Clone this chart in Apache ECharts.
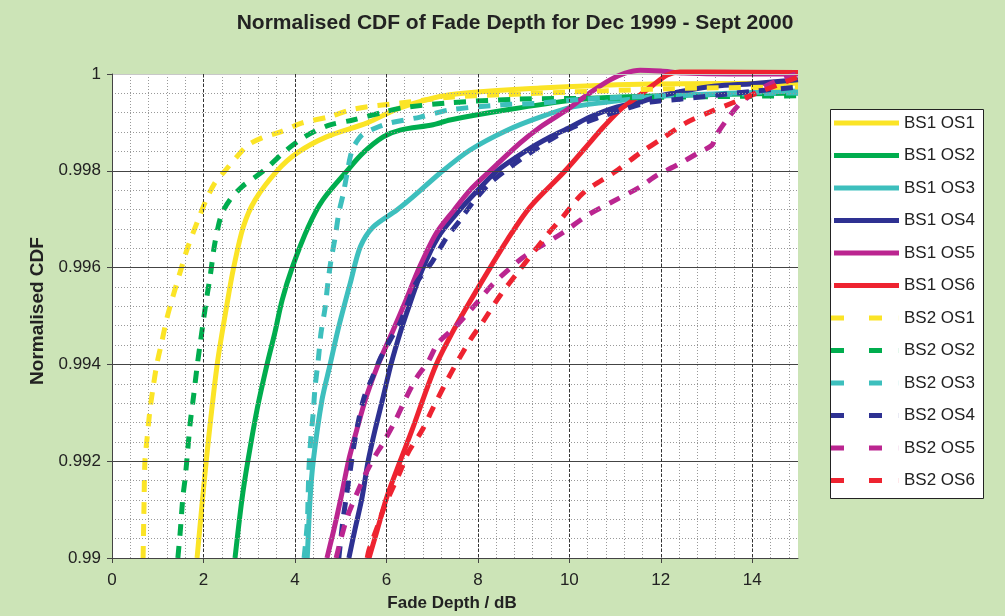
<!DOCTYPE html>
<html><head><meta charset="utf-8">
<script src="https://cdn.jsdelivr.net/npm/echarts@6/dist/echarts.min.js"></script>
<style>html,body{margin:0;padding:0;background:#cce4b7}#c{width:1005px;height:616px}</style>
</head><body><div id="c"></div>
<script>
const seriesNames = ['BS1 OS1','BS1 OS2','BS1 OS3','BS1 OS4','BS1 OS5','BS1 OS6','BS2 OS1','BS2 OS2','BS2 OS3','BS2 OS4','BS2 OS5','BS2 OS6'];
const xTickLabels = ['0','2','4','6','8','10','12','14'];
const yTickLabels = ['0.99','0.992','0.994','0.996','0.998','1'];

const bs1os1 = [[1.86,0.99],[2.06,0.992],[2.30,0.994],[2.53,0.99533],[2.66,0.996],[2.87,0.99684],[3.13,0.9974],[3.61,0.998],[4.05,0.99837],[4.69,0.9987],[5.58,0.99899],[6.30,0.9993],[7.39,0.99957],[9.36,0.99971],[11.55,0.99979],[15,0.99981]];
const bs1os2 = [[2.69,0.99],[2.84,0.9912],[2.97,0.992],[3.17,0.99306],[3.39,0.994],[3.56,0.99465],[3.72,0.99533],[3.94,0.996],[4.29,0.99684],[4.61,0.9974],[5.14,0.998],[5.49,0.99837],[5.93,0.9987],[6.30,0.99884],[7.02,0.99895],[7.39,0.99905],[8.64,0.99926],[10.08,0.99946],[11.0,0.99952],[12.86,0.99957],[15,0.99961]];
const bs1os3 = [[4.27,0.99],[4.33,0.9912],[4.40,0.992],[4.59,0.99326],[4.77,0.994],[4.94,0.99471],[5.21,0.99568],[5.43,0.99643],[5.71,0.99684],[6.23,0.99719],[6.58,0.99746],[7.17,0.99795],[7.83,0.99843],[8.64,0.99884],[9.36,0.99911],[10.08,0.99932],[10.83,0.99942],[11.55,0.9995],[12.14,0.99955],[13.5,0.9996],[15,0.99965]];
const bs1os4 = [[5.18,0.99],[5.31,0.99058],[5.47,0.99126],[5.60,0.992],[5.75,0.99264],[5.93,0.99333],[6.10,0.994],[6.32,0.99471],[6.52,0.99527],[6.78,0.99595],[7.13,0.99663],[7.52,0.9971],[7.92,0.99752],[8.42,0.998],[9.08,0.99843],[9.58,0.9987],[10.02,0.9989],[10.45,0.99911],[11.05,0.99932],[11.55,0.99942],[12.0,0.99955],[12.5,0.99965],[13.2,0.99975],[14.0,0.9998],[15,0.99988]];
const bs1os5 = [[4.70,0.99],[4.85,0.99058],[5.01,0.99126],[5.17,0.992],[5.35,0.99264],[5.56,0.99333],[5.82,0.994],[6.15,0.99471],[6.43,0.99533],[6.72,0.996],[7.09,0.99671],[7.48,0.99719],[7.83,0.9976],[8.27,0.998],[8.92,0.99857],[9.36,0.9989],[9.95,0.99926],[10.45,0.99961],[10.89,0.99988],[11.22,1.00002],[11.55,1.00008],[12.0,1.00006],[12.5,1.00002],[13.5,1.0],[15,1.0]];
const bs1os6 = [[5.62,0.99],[5.80,0.99058],[6.01,0.99126],[6.30,0.992],[6.56,0.99264],[6.82,0.99333],[7.09,0.994],[7.42,0.99462],[7.76,0.99519],[8.27,0.996],[8.64,0.99657],[9.14,0.99725],[9.91,0.998],[10.50,0.99864],[10.74,0.9989],[11.11,0.99926],[11.48,0.99952],[11.83,0.99977],[12.14,0.99998],[12.42,1.00004],[13.0,1.00004],[15,1.00003]];
const bs2os1 = [[0.68,0.99],[0.70,0.9911],[0.72,0.992],[0.77,0.9925],[0.83,0.99306],[0.90,0.99353],[0.98,0.994],[1.09,0.99447],[1.20,0.99495],[1.31,0.99533],[1.57,0.99616],[1.66,0.99643],[1.88,0.99698],[2.06,0.9974],[2.25,0.99775],[2.47,0.998],[2.73,0.99829],[2.97,0.99853],[3.28,0.99868],[3.67,0.9988],[4.16,0.99899],[4.72,0.99911],[5.31,0.99928],[6.30,0.9994],[7.39,0.99952],[8.49,0.99957],[10.67,0.99965],[12.86,0.99971],[15,0.99973]];
const bs2os2 = [[1.44,0.99],[1.49,0.99052],[1.55,0.99126],[1.60,0.99165],[1.66,0.99227],[1.71,0.99279],[1.79,0.99339],[1.86,0.99395],[1.93,0.99444],[2.01,0.99498],[2.08,0.99543],[2.16,0.99591],[2.23,0.9964],[2.32,0.99684],[2.41,0.99713],[2.58,0.9974],[2.84,0.99767],[3.13,0.99787],[3.39,0.99806],[3.74,0.99837],[4.11,0.99864],[4.40,0.9988],[4.77,0.99895],[5.27,0.99905],[5.93,0.99921],[6.34,0.9993],[7.33,0.9994],[8.86,0.99948],[10.67,0.9995],[12.86,0.99953],[15,0.99955]];
const bs2os3 = [[4.20,0.99],[4.27,0.99072],[4.29,0.99134],[4.31,0.99192],[4.35,0.9925],[4.40,0.993],[4.44,0.99353],[4.51,0.99409],[4.57,0.99465],[4.66,0.99517],[4.72,0.99568],[4.79,0.99616],[4.88,0.99663],[4.96,0.99713],[5.06,0.99754],[5.14,0.99795],[5.21,0.99829],[5.28,0.99849],[5.47,0.99874],[5.75,0.99888],[6.08,0.99899],[6.74,0.99911],[7.39,0.99926],[8.49,0.99936],[9.36,0.9994],[10.30,0.99948],[12.14,0.99955],[15,0.99961]];
const bs2os4 = [[4.96,0.99],[5.05,0.99078],[5.12,0.99124],[5.17,0.99157],[5.22,0.99188],[5.28,0.99227],[5.38,0.99279],[5.51,0.99331],[5.69,0.99372],[5.88,0.99415],[6.08,0.9945],[6.30,0.99486],[6.47,0.99527],[6.65,0.99568],[7.00,0.99612],[7.31,0.99661],[7.61,0.99698],[7.90,0.99736],[8.27,0.99775],[8.71,0.99808],[9.08,0.99833],[9.58,0.99864],[10.08,0.9989],[10.67,0.99911],[11.22,0.99928],[11.77,0.99942],[12.42,0.99948],[13.3,0.99957],[14.11,0.99965],[15,0.99973]];
const bs2os5 = [[4.90,0.99],[5.01,0.99041],[5.16,0.99089],[5.34,0.9913],[5.53,0.99171],[5.73,0.99207],[5.93,0.99238],[6.19,0.99283],[6.43,0.99331],[6.67,0.99374],[6.91,0.99405],[7.13,0.99444],[7.50,0.99477],[7.94,0.99523],[8.31,0.99564],[8.66,0.99595],[8.97,0.9962],[9.30,0.9964],[9.84,0.99671],[10.41,0.99709],[10.94,0.99736],[11.55,0.99767],[11.92,0.99791],[12.36,0.99812],[12.82,0.99837],[13.12,0.99853],[13.19,0.9987],[13.47,0.99909],[13.74,0.9994],[13.91,0.99952],[14.33,0.99977],[14.90,0.99998],[15,1.0]];
const bs2os6 = [[5.58,0.99],[5.62,0.99017],[5.80,0.99064],[5.97,0.99109],[6.30,0.99178],[6.47,0.99217],[6.78,0.99264],[7.02,0.9931],[7.40,0.9938],[7.83,0.9945],[8.11,0.99488],[8.49,0.99543],[8.88,0.99591],[9.51,0.99667],[9.86,0.99705],[10.30,0.99754],[11.00,0.99798],[11.55,0.99837],[12.05,0.99868],[12.55,0.99899],[13.06,0.99921],[13.56,0.9994],[14.11,0.99961],[14.54,0.99977],[15,0.99994]];

const seriesData = [bs1os1,bs1os2,bs1os3,bs1os4,bs1os5,bs1os6,bs2os1,bs2os2,bs2os3,bs2os4,bs2os5,bs2os6];
const palette = ['#fbe426','#00ad4e','#3dbfbd','#2e3192','#bb2590','#ee2330'];
const FONT = '"Liberation Sans", Arial, sans-serif';

const solidIcon = 'path://M3,0h65v5h-65z M0,0h0.1v5h-0.1z';
const dashIcon = 'path://M0,0h13v5h-13z M38,0h13v5h-13z M67.9,0h0.1v5h-0.1z';

const chart = echarts.init(document.getElementById('c'), null, {renderer:'canvas'});
chart.setOption({
  animation:false,
  backgroundColor:'#cce4b7',
  grid:{left:112, right:207, top:74, bottom:58, show:true, backgroundColor:'#ffffff', borderWidth:0},
  graphic:[
    {type:'rect', z:1, shape:{x:830.5, y:109.5, width:153, height:389}, style:{fill:'#ffffff', stroke:'#222', lineWidth:1}},
    {type:'text', z:5, x:515, y:23, style:{text:'Normalised CDF of Fade Depth for Dec 1999 - Sept 2000', font:'bold 21px '+FONT, fill:'#222', align:'center', verticalAlign:'middle'}},
    {type:'text', z:5, x:452, y:603, style:{text:'Fade Depth / dB', font:'bold 17px '+FONT, fill:'#222', align:'center', verticalAlign:'middle'}},
    {type:'text', z:5, x:38, y:311, rotation:Math.PI/2, style:{text:'Normalised CDF', font:'bold 19px '+FONT, fill:'#222', align:'center', verticalAlign:'middle'}}
  ],
  legend:{
    orient:'vertical', left:830, top:109, padding:[4,0,0,1],
    itemWidth:68, itemHeight:5, itemGap:12.5, z:6,
    textStyle:{fontFamily:FONT, fontSize:17, color:'#222', lineHeight:20},
    itemStyle:{borderWidth:0},
    data: seriesNames.map((n,i)=>({name:n, icon: i<6 ? solidIcon : dashIcon}))
  },
  xAxis:[{
    type:'value', min:0, max:15, interval:2, z:3,
    axisLine:{show:true, lineStyle:{color:'#444', width:1}},
    axisTick:{show:true, length:5, inside:false, lineStyle:{color:'#444'}},
    axisLabel:{fontFamily:FONT, fontSize:17, color:'#222', margin:14, showMaxLabel:false,
      formatter:(v,i)=> xTickLabels[i] !== undefined ? xTickLabels[i] : ''},
    splitLine:{show:true, showMinLine:false, showMaxLine:false, lineStyle:{color:'#333', type:[3,2], width:1}}
  },{
    type:'value', min:0, max:15, interval:0.4, z:1, position:'bottom',
    axisLine:{show:false}, axisTick:{show:false}, axisLabel:{show:false},
    splitLine:{show:true, showMinLine:false, showMaxLine:false, lineStyle:{color:'#999', type:[1,2], width:1}}
  }],
  yAxis:{
    type:'value', min:0.99, max:1, interval:0.002, z:3,
    axisLine:{show:true, lineStyle:{color:'#444', width:1}},
    axisTick:{show:true, length:5, lineStyle:{color:'#444'}},
    axisLabel:{fontFamily:FONT, fontSize:17, color:'#222', margin:11,
      formatter:(v,i)=> yTickLabels[i] !== undefined ? yTickLabels[i] : ''},
    splitLine:{show:true, lineStyle:{color:['#444','#444','#444','#444','#444','#c8c8c8'], width:1}},
    minorTick:{show:false, splitNumber:5},
    minorSplitLine:{show:true, lineStyle:{color:'#999', type:[1,2], width:1}}
  },
  series: seriesNames.map((name,i)=>({
    name, type:'line', data:seriesData[i], xAxisIndex:0,
    showSymbol:false, symbol:'none', smooth:0.3, clip:false, z:2+i*0.01,
    itemStyle:{color:palette[i%6]},
    lineStyle:{color:palette[i%6], width:5, type: i>=6 ? [12,10] : 'solid', cap:'butt', join:'round'},
    emphasis:{disabled:true}
  }))
});
</script></body></html>
